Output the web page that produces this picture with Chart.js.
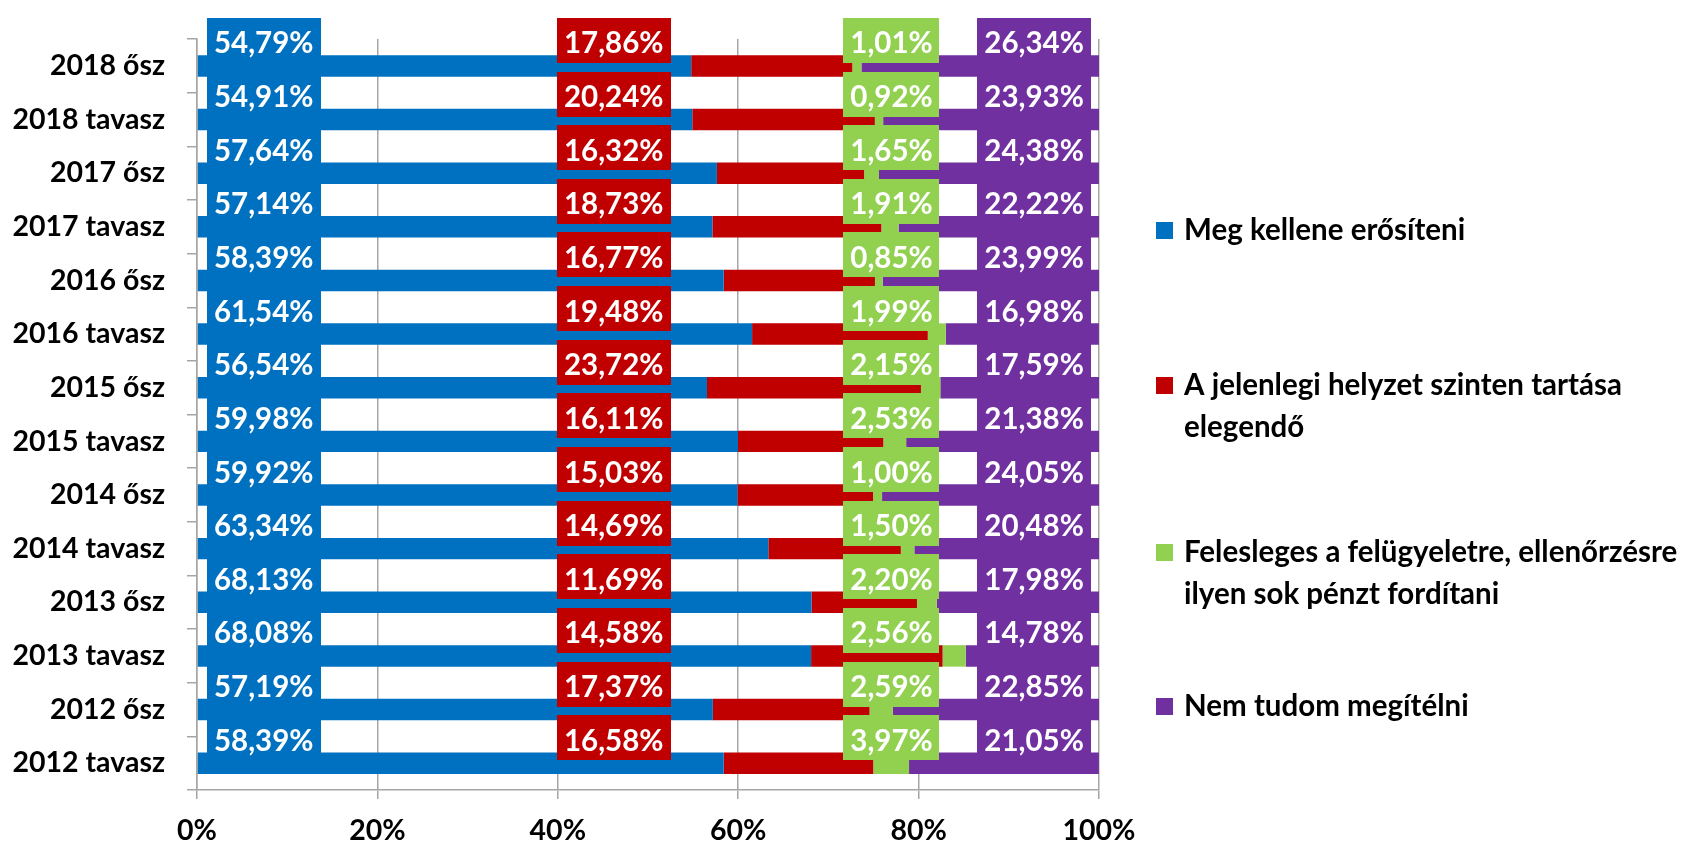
<!DOCTYPE html>
<html>
<head>
<meta charset="utf-8">
<script src="https://cdn.jsdelivr.net/npm/chart.js@4/dist/chart.umd.min.js"></script>
<style>
  html, body { margin: 0; padding: 0; background: #fff; }
  #wrap { width: 1691px; height: 844px; position: relative; }
</style>
</head>
<body>
<div id="wrap"><canvas id="chart" width="1691" height="844"></canvas></div>
<script>
const categories = [
  "2018 ősz", "2018 tavasz", "2017 ősz", "2017 tavasz", "2016 ősz", "2016 tavasz", "2015 ősz",
  "2015 tavasz", "2014 ősz", "2014 tavasz", "2013 ősz", "2013 tavasz", "2012 ősz", "2012 tavasz",
];
const megKellene = [54.79, 54.91, 57.64, 57.14, 58.39, 61.54, 56.54, 59.98, 59.92, 63.34, 68.13, 68.08, 57.19, 58.39];
const szintenTartas = [17.86, 20.24, 16.32, 18.73, 16.77, 19.48, 23.72, 16.11, 15.03, 14.69, 11.69, 14.58, 17.37, 16.58];
const felesleges = [1.01, 0.92, 1.65, 1.91, 0.85, 1.99, 2.15, 2.53, 1.00, 1.50, 2.20, 2.56, 2.59, 3.97];
const nemTudom = [26.34, 23.93, 24.38, 22.22, 23.99, 16.98, 17.59, 21.38, 24.05, 20.48, 17.98, 14.78, 22.85, 21.05];

const seriesNames = [
  ["Meg kellene erősíteni"],
  ["A jelenlegi helyzet szinten tartása", "elegendő"],
  ["Felesleges a felügyeletre, ellenőrzésre", "ilyen sok pénzt fordítani"],
  ["Nem tudom megítélni"],
];
const xTicks = [0, 20, 40, 60, 80, 100];

const colors = ["#0070C0", "#C00000", "#92D050", "#7030A0"];
const FONT = "Lato";
const GRID = "#a6a6a6";

// value boxes sit in fixed columns (axis units), like the Excel original
const labelColumns = [7.4, 46.2, 77, 92.8];
const legendRows = [230, 385, 552, 706];

const fmtPct = (v) => v.toFixed(2).replace(".", ",") + "%";

const valueBoxes = {
  id: "valueBoxes",
  afterDatasetsDraw(chart) {
    const { ctx } = chart;
    const x = chart.scales.x;
    ctx.save();
    ctx.font = `bold 29.5px ${FONT}`;
    ctx.textAlign = "center";
    ctx.textBaseline = "middle";
    chart.data.datasets.forEach((ds, i) => {
      const meta = chart.getDatasetMeta(i);
      const cx = x.getPixelForValue(labelColumns[i]);
      meta.data.forEach((bar, j) => {
        const txt = fmtPct(ds.data[j]);
        const w = ctx.measureText(txt).width + 14;
        ctx.fillStyle = ds.backgroundColor;
        ctx.fillRect(Math.round(cx - w / 2), Math.round(bar.y - 48), Math.round(w), 45);
        ctx.fillStyle = "#fff";
        ctx.fillText(txt, cx, bar.y - 22);
      });
    });
    ctx.restore();
  },
};

const sideLegend = {
  id: "sideLegend",
  afterDraw(chart) {
    const { ctx } = chart;
    ctx.save();
    ctx.font = `bold 29.5px ${FONT}`;
    ctx.textBaseline = "middle";
    ctx.textAlign = "left";
    seriesNames.forEach((lines, i) => {
      const y0 = legendRows[i];
      ctx.fillStyle = colors[i];
      ctx.fillRect(1156, y0 - 8, 17, 17);
      ctx.fillStyle = "#000";
      lines.forEach((line, k) => ctx.fillText(line, 1184, y0 + k * 42));
    });
    ctx.restore();
  },
};

const datasets = [megKellene, szintenTartas, felesleges, nemTudom].map((data, i) => ({
  label: seriesNames[i].join(" "),
  data,
  backgroundColor: colors[i],
  borderWidth: 0,
  barPercentage: 0.4,
  categoryPercentage: 1,
}));

function draw() {
  new Chart(document.getElementById("chart"), {
    type: "bar",
    data: { labels: categories, datasets },
    plugins: [valueBoxes, sideLegend],
    options: {
      indexAxis: "y",
      responsive: false,
      animation: false,
      devicePixelRatio: 1,
      layout: { padding: { top: 34, right: 592, left: 0, bottom: 0 } },
      plugins: { legend: { display: false }, tooltip: { enabled: false } },
      scales: {
        x: {
          stacked: true,
          min: 0,
          max: 100,
          afterFit(s) { s.height = 54; },
          afterBuildTicks(s) { s.ticks = xTicks.map(v => ({ value: v })); },
          grid: { color: GRID, lineWidth: 1.5, tickLength: 9 },
          border: { color: GRID, width: 1.5 },
          ticks: {
            callback: (v) => v + "%",
            color: "#000",
            padding: 15,
            maxRotation: 0,
            font: { family: FONT, weight: "bold", size: 28.5 },
          },
        },
        y: {
          stacked: true,
          afterFit(s) { s.width = 197; },
          grid: { offset: true, drawOnChartArea: false, tickLength: 10, color: GRID, lineWidth: 1.5 },
          border: { color: GRID, width: 1.5 },
          ticks: {
            autoSkip: false,
            color: "#000",
            padding: 22,
            font: { family: FONT, weight: "bold", size: 28.5 },
          },
        },
      },
    },
  });
}

document.fonts.load(`bold 29.5px ${FONT}`).then(draw, draw);
</script>
</body>
</html>
